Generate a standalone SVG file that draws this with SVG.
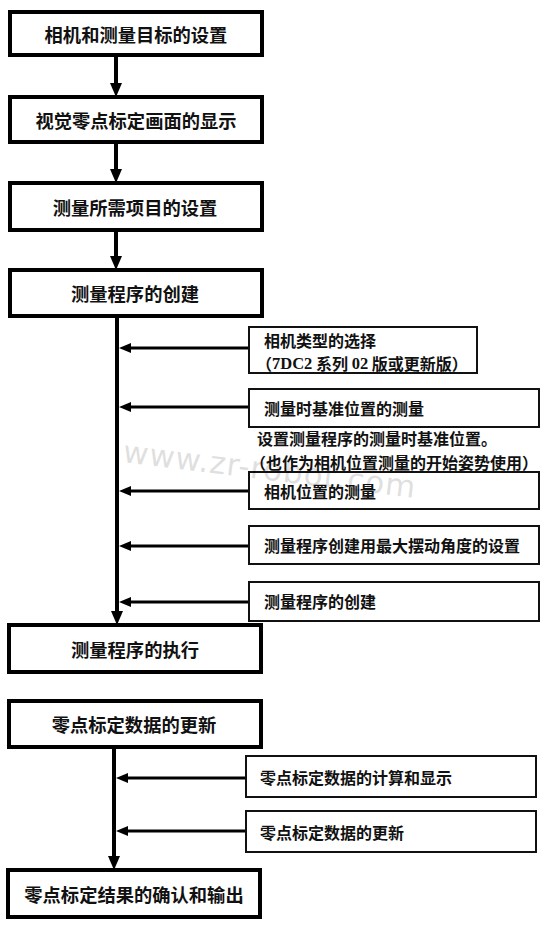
<svg xmlns="http://www.w3.org/2000/svg" width="554" height="938" viewBox="0 0 554 938">
<style>
.main{fill:#fff;stroke:#000;stroke-width:4}
.side{fill:#fff;stroke:#111;stroke-width:2}
.mt{font-family:"Noto Sans CJK SC","Noto Sans",sans-serif;font-weight:bold;font-size:18.3px;fill:#111;text-anchor:middle;dominant-baseline:central}
.st{font-family:"Noto Sans CJK SC","Noto Sans",sans-serif;font-weight:bold;font-size:16px;fill:#111;dominant-baseline:central}
.ser{font-family:"Liberation Serif",serif;font-weight:bold}
.vl{stroke:#000;stroke-width:4;fill:none}
.hl{stroke:#000;stroke-width:3;fill:none}
.wm{font-family:"DejaVu Sans",sans-serif;font-size:31px;fill:#000;opacity:0.12;letter-spacing:1px}
</style>
<defs>
<marker id="av" markerUnits="userSpaceOnUse" markerWidth="14" markerHeight="14" refX="4" refY="7" orient="auto" viewBox="0 0 14 14">
<path d="M0,1 L14,7 L0,13 z" fill="#000"/>
</marker>
<marker id="ah" markerUnits="userSpaceOnUse" markerWidth="12" markerHeight="12" refX="3" refY="6" orient="auto" viewBox="0 0 12 12">
<path d="M0,1 L12,6 L0,11 z" fill="#000"/>
</marker>
</defs>
<rect width="554" height="938" fill="#fff"/>

<g id="connectors">
<line class="vl" x1="116" y1="55" x2="116" y2="87" marker-end="url(#av)"/>
<line class="vl" x1="116" y1="142" x2="116" y2="173" marker-end="url(#av)"/>
<line class="vl" x1="116" y1="230" x2="116" y2="260" marker-end="url(#av)"/>
<line class="vl" x1="117" y1="316" x2="117" y2="615" marker-end="url(#av)"/>
<line class="vl" x1="114" y1="747" x2="114" y2="860" marker-end="url(#av)"/>
<line class="hl" x1="249" y1="348" x2="128" y2="348" marker-end="url(#ah)"/>
<line class="hl" x1="249" y1="407" x2="128" y2="407" marker-end="url(#ah)"/>
<line class="hl" x1="249" y1="491" x2="128" y2="491" marker-end="url(#ah)"/>
<line class="hl" x1="249" y1="546" x2="128" y2="546" marker-end="url(#ah)"/>
<line class="hl" x1="249" y1="602" x2="128" y2="602" marker-end="url(#ah)"/>
<line class="hl" x1="246" y1="778" x2="125" y2="778" marker-end="url(#ah)"/>
<line class="hl" x1="246" y1="831" x2="125" y2="831" marker-end="url(#ah)"/>
</g>

<g id="n1"><rect class="main" x="10" y="12" width="252" height="43"/><text class="mt" x="136" y="33.5">相机和测量目标的设置</text></g>
<g id="n2"><rect class="main" x="10" y="97" width="252" height="45"/><text class="mt" x="136" y="119.5">视觉零点标定画面的显示</text></g>
<g id="n3"><rect class="main" x="10" y="183" width="252" height="47"/><text class="mt" x="135" y="206.5">测量所需项目的设置</text></g>
<g id="n4"><rect class="main" x="10" y="270" width="252" height="46"/><text class="mt" x="135" y="293">测量程序的创建</text></g>

<g id="s1"><rect class="side" x="249" y="327" width="228" height="46"/>
<text class="st" x="264" y="339.5" font-size="15.5">相机类型的选择</text>
<text class="st" x="256" y="362.5" font-size="15.5">（<tspan class="ser" font-size="16.5">7DC2</tspan> 系列 <tspan class="ser" font-size="16.5">02</tspan> 版或更新版）</text></g>
<g id="s2"><rect class="side" x="249" y="389" width="290" height="38"/><text class="st" x="264" y="408">测量时基准位置的测量</text></g>
<g id="note"><text class="st" x="257" y="438">设置测量程序的测量时基准位置。</text>
<text class="st" x="250" y="462">（也作为相机位置测量的开始姿势使用）</text></g>
<g id="s3"><rect class="side" x="249" y="472" width="290" height="37"/><text class="st" x="264" y="490.5">相机位置的测量</text></g>
<g id="s4"><rect class="side" x="249" y="526" width="290" height="38"/><text class="st" x="264" y="545">测量程序创建用最大摆动角度的设置</text></g>
<g id="s5"><rect class="side" x="249" y="582" width="290" height="39"/><text class="st" x="264" y="601">测量程序的创建</text></g>

<g id="n5"><rect class="main" x="9" y="625" width="252" height="47"/><text class="mt" x="135" y="648.5">测量程序的执行</text></g>
<g id="n6"><rect class="main" x="9" y="701" width="252" height="46"/><text class="mt" x="134" y="724">零点标定数据的更新</text></g>
<g id="s6"><rect class="side" x="246" y="756" width="290" height="41"/><text class="st" x="260" y="776.5">零点标定数据的计算和显示</text></g>
<g id="s7"><rect class="side" x="246" y="811" width="290" height="41"/><text class="st" x="260" y="831.5">零点标定数据的更新</text></g>
<g id="n7"><rect class="main" x="8" y="870" width="252" height="47"/><text class="mt" x="134" y="893.5">零点标定结果的确认和输出</text></g>

<text class="wm" x="122" y="462" transform="rotate(7 122 462)">www.zr-robot.com</text>
</svg>
